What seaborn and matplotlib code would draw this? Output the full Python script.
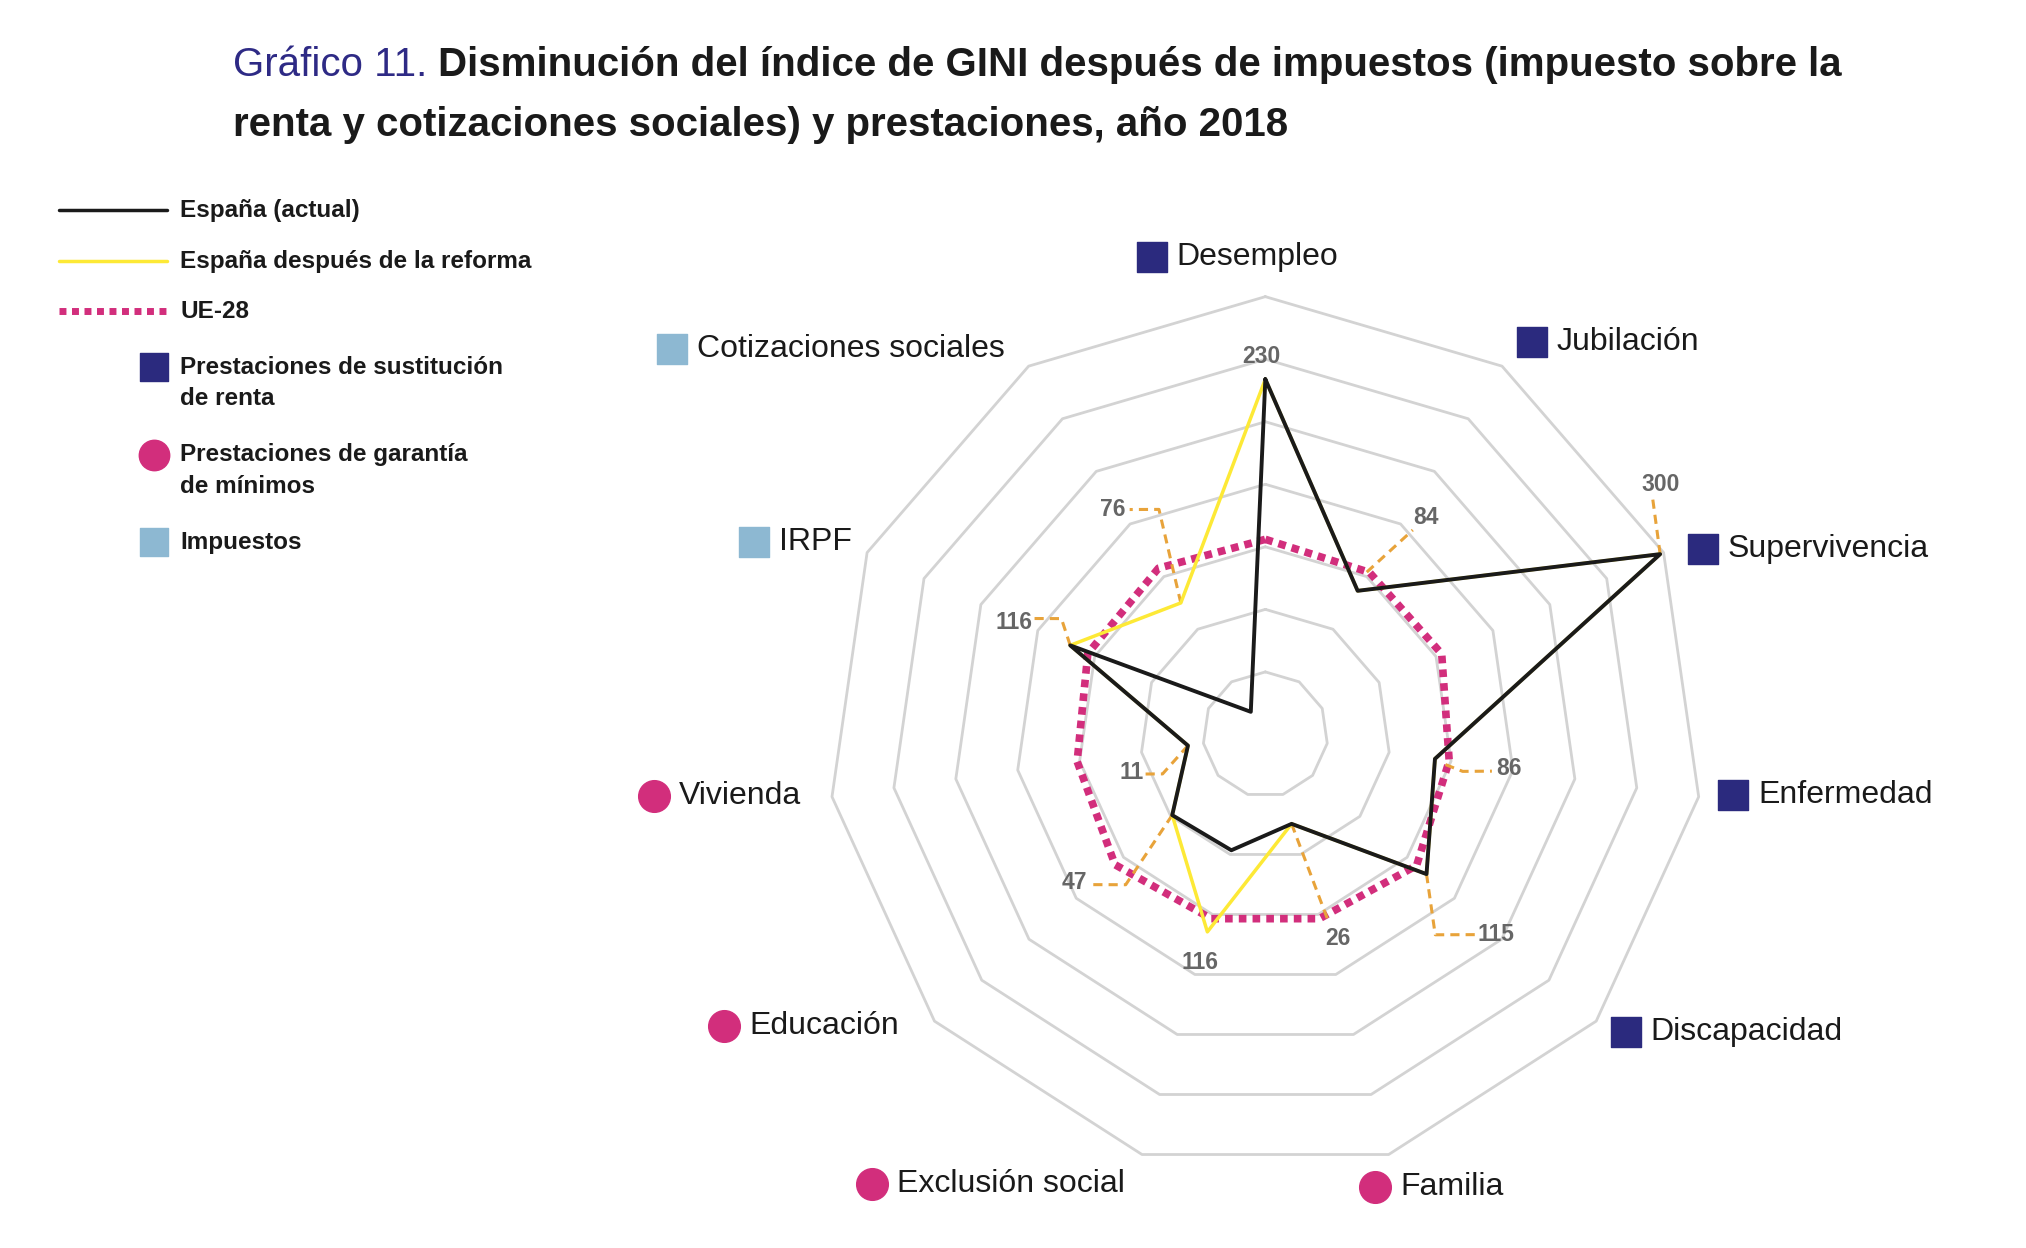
import numpy as np
import matplotlib
matplotlib.use("Agg")
import matplotlib.pyplot as plt
import seaborn as sns

# ========== Datos ==========

categorias = ["Desempleo", "Jubilación", "Supervivencia", "Enfermedad", "Discapacidad",
              "Familia", "Exclusión social", "Educación", "Vivienda", "IRPF",
              "Cotizaciones sociales"]
tipo_categoria = ["sust", "sust", "sust", "sust", "sust",
                  "gar", "gar", "gar", "gar", "imp", "imp"]

espana_actual = [5.68, 2.73, 6.94, 2.74, 3.41, 1.49, 1.93, 1.97, 1.25, 3.43, 0.43]
espana_reforma = [5.68, 2.73, 6.94, 2.74, 3.41, 1.49, 3.29, 1.97, 1.25, 3.43, 2.50]
ue28 = [3.12, 3.08, 3.10, 2.97, 3.20, 3.07, 3.07, 3.18, 3.04, 3.12, 3.16]

etiquetas = ["230", "84", "300", "86", "115", "26", "116", "47", "11", "116", "76"]

# ========== Estilo ==========

NEGRO = "#1a1a1a"
AMARILLO = "#FDE936"
ROSA = "#D22E7C"
NARANJA = "#E8A33A"
AZUL = "#2B2A7E"
CELESTE = "#8DB8D2"
GRIS = "#666666"
REJILLA = "#D3D3D3"
COLOR_TIPO = {"sust": AZUL, "gar": ROSA, "imp": CELESTE}
MARCA_TIPO = {"sust": "s", "gar": "o", "imp": "s"}

# posiciones de etiquetas (angulo, radio) y guias
pos_etiquetas = [(-0.6, 6.04), (36.5, 4.32), (57.7, 7.47), (98.0, 3.93), (131.0, 4.88),
                 (160.5, 3.46), (196.1, 3.79), (232.3, 3.86), (254.1, 2.23), (294.0, 4.40),
                 (325.8, 4.35)]
guias = {
    1: [(32.0, 3.06), (35.8, 4.03)],
    2: [None, (58.5, 7.26)],
    3: [(99.5, 2.92), (100.6, 3.21), (99.2, 3.67)],
    4: [None, (139.7, 4.20), (133.5, 4.65)],
    5: [None, (161.4, 3.11)],
    7: [None, (222.9, 3.28), (229.4, 3.69)],
    8: [None, (249.0, 1.76), (252.1, 2.06)],
    9: [None, (299.6, 3.75), (296.6, 4.14)],
    10: ["ref", (334.7, 3.98), (328.9, 4.20)],
}

# posiciones de rótulos de categoría (px en imagen de 1550x955)
pos_rotulos = [(881, 197), (1172, 262), (1303, 420), (1326, 608), (1244, 790),
               (1052, 908), (667, 906), (554, 785), (500, 609), (577, 415), (514, 267)]


def cerrar(v):
    return list(v) + [v[0]]


def main():
    sns.set_theme(style="white")
    plt.rcParams['font.family'] = ['Liberation Sans', 'DejaVu Sans']

    fig = plt.figure(figsize=(20.26, 12.48), dpi=100)
    fondo = fig.add_axes([0, 0, 1, 1])
    fondo.set_xlim(0, 1550)
    fondo.set_ylim(955, 0)
    fondo.axis("off")

    # título
    t1 = fondo.text(178, 58, "Gráfico 11. ", fontsize=29, color="#2E2A85", va="baseline")
    fondo.annotate("Disminución del índice de GINI después de impuestos (impuesto sobre la",
                   xy=(1, 0), xycoords=t1, fontsize=29, fontweight="bold", color=NEGRO,
                   va="bottom")
    fondo.text(178, 104, "renta y cotizaciones sociales) y prestaciones, año 2018",
               fontsize=29, fontweight="bold", color=NEGRO, va="baseline")

    # leyenda
    fondo.plot([45, 128], [161, 161], color=NEGRO, lw=2.5)
    fondo.plot([45, 128], [200, 200], color=AMARILLO, lw=2.5)
    fondo.plot([45, 128], [238, 238], color=ROSA, lw=5, linestyle=(0, (1, 0.8)))
    fondo.scatter([118], [281], marker="s", s=420, color=AZUL)
    fondo.scatter([118], [348], marker="o", s=480, color=ROSA)
    fondo.scatter([118], [415], marker="s", s=420, color=CELESTE)
    textos_leyenda = [(161, "España (actual)"), (200, "España después de la reforma"),
                      (238, "UE-28"), (281, "Prestaciones de sustitución"),
                      (305, "de renta"), (348, "Prestaciones de garantía"),
                      (372, "de mínimos"), (415, "Impuestos")]
    for y, txt in textos_leyenda:
        fondo.text(138, y, txt, fontsize=17.5, fontweight="bold", color=NEGRO, va="center")

    # rótulos de categoría
    for (x, y), nombre, tipo in zip(pos_rotulos, categorias, tipo_categoria):
        fondo.scatter([x], [y], marker=MARCA_TIPO[tipo], color=COLOR_TIPO[tipo],
                      s=520 if tipo == "gar" else 480)
        fondo.text(x + 19, y, nombre, fontsize=23, color=NEGRO, va="center")

    # radar
    ax = fig.add_axes([0.4084, 0.0607, 0.4323, 0.7016], projection="polar")
    ax.set_facecolor("none")
    ax.set_theta_offset(np.pi / 2)
    ax.set_theta_direction(-1)
    ax.set_ylim(0, 7)
    ax.grid(False)
    ax.spines["polar"].set_visible(False)
    ax.set_xticks([])
    ax.set_yticks([])

    angulos = np.linspace(0, 2 * np.pi, len(categorias), endpoint=False)
    th = cerrar(angulos)
    for r in range(1, 8):
        ax.plot(th, [r] * len(th), color=REJILLA, lw=2, zorder=1, clip_on=False)

    ax.plot(th, cerrar(ue28), color=ROSA, lw=5.5, linestyle=(0, (1, 0.8)), zorder=2)
    ax.plot(th, cerrar(espana_reforma), color=AMARILLO, lw=2.5, zorder=3)
    ax.plot(th, cerrar(espana_actual), color=NEGRO, lw=2.8, zorder=4)

    # guias y etiquetas
    for i, pts in guias.items():
        tramo = []
        for p in pts:
            if p is None:
                tramo.append((angulos[i], espana_actual[i]))
            elif p == "ref":
                tramo.append((angulos[i], espana_reforma[i]))
            else:
                tramo.append((np.deg2rad(p[0]), p[1]))
        ax.plot([a for a, _ in tramo], [r for _, r in tramo], color=NARANJA, lw=2.2,
                linestyle=(0, (3, 2)), zorder=2, clip_on=False)
    for (ang, r), txt in zip(pos_etiquetas, etiquetas):
        ax.text(np.deg2rad(ang), r, txt, fontsize=16.5, fontweight="bold", color=GRIS,
                ha="center", va="center", zorder=5, clip_on=False)

    fig.savefig("out.png", dpi=100)
    plt.close(fig)


if __name__ == "__main__":
    main()
